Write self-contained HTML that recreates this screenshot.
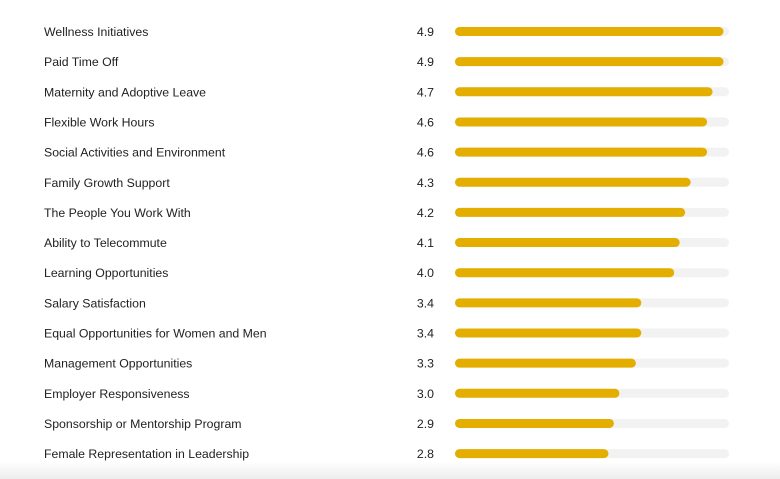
<!DOCTYPE html>
<html><head><meta charset="utf-8">
<style>
html,body{margin:0;padding:0;background:#fff;}
body{width:780px;height:479px;overflow:hidden;position:relative;font-family:"Liberation Sans",sans-serif;}
#fade{position:absolute;left:0;top:462px;width:780px;height:17px;background:linear-gradient(#fff,#ececec);}
</style></head>
<body>
<div id="fade"></div>
<svg id="chart" width="780" height="479" style="position:absolute;left:0;top:0"></svg>
<script>
const categories=["Wellness Initiatives","Paid Time Off","Maternity and Adoptive Leave","Flexible Work Hours","Social Activities and Environment","Family Growth Support","The People You Work With","Ability to Telecommute","Learning Opportunities","Salary Satisfaction","Equal Opportunities for Women and Men","Management Opportunities","Employer Responsiveness","Sponsorship or Mentorship Program","Female Representation in Leadership"];
const values=[4.9,4.9,4.7,4.6,4.6,4.3,4.2,4.1,4.0,3.4,3.4,3.3,3.0,2.9,2.8];
const maxValue=5;
const NS="http://www.w3.org/2000/svg";
const svg=document.getElementById('chart');
const x0=455,x1=729;
function xScale(v){return x0+(x1-x0)*v/maxValue;}
function yScale(i){return 31.5+i*30.15;}
function mk(t,a){const e=document.createElementNS(NS,t);for(const k in a)e.setAttribute(k,a[k]);svg.appendChild(e);return e;}
categories.forEach((c,i)=>{
  const y=yScale(i);
  const lab=mk('text',{x:44,y:y+4.5,'font-size':12.3,fill:'#222'});
  lab.textContent=c;
  
  
  const val=mk('text',{x:434,y:y+4.5,'font-size':12.3,fill:'#222','text-anchor':'end'});
  val.textContent=values[i].toFixed(1);
  
  
  const tr=mk('rect',{x:x0,y:y-4.5,width:x1-x0,height:9,rx:4.5,fill:'#f2f2f2'});
  
  
  const b=mk('rect',{x:x0,y:y-4.5,width:xScale(values[i])-x0,height:9,rx:4.5,fill:'#e3ae00'});
  
  
});
</script>
</body></html>
